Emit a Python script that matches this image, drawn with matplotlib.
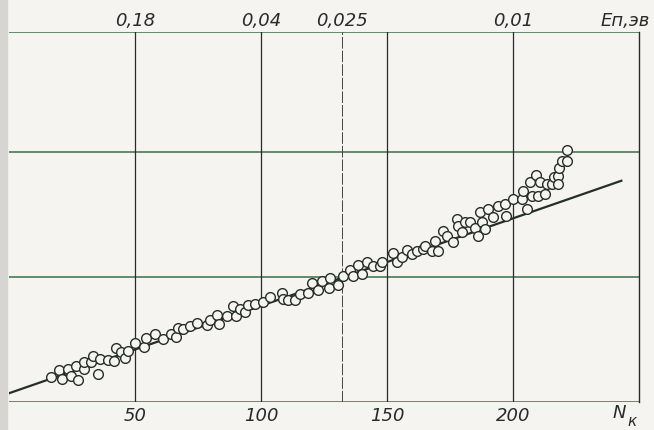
import matplotlib.pyplot as plt
from matplotlib.patches import Rectangle

# measured points (N_k, relative ordinate)
n_k = [16.5, 19.7, 20.9, 23.3, 24.5, 26.4, 27.2, 29.6, 29.6, 32.4, 33.2, 35.5,
       36.3, 39.1, 41.5, 42.3, 44.3, 46.2, 47.4, 50.0, 53.4, 54.2, 58.1, 61.3,
       64.1, 66.1, 66.9, 69.2, 72.0, 74.8, 78.7, 79.9, 82.7, 83.5, 86.7, 88.7,
       89.9, 91.8, 93.8, 95.0, 97.8, 100.6, 103.7, 108.5, 108.9, 110.9, 113.6,
       115.6, 118.8, 120.4, 122.7, 124.3, 127.1, 127.5, 130.7, 132.7, 135.4,
       136.6, 138.6, 140.2, 142.2, 144.5, 147.3, 148.1, 152.5, 154.1, 156.0,
       158.0, 160.0, 162.0, 164.4, 165.2, 168.0, 169.1, 170.3, 172.3, 173.9,
       176.3, 177.8, 178.2, 179.8, 181.0, 183.0, 185.0, 186.2, 187.0, 187.8,
       188.9, 190.1, 192.1, 194.1, 196.9, 197.3, 200.0, 203.6, 204.0, 205.6,
       206.8, 207.6, 209.2, 210.0, 210.7, 212.7, 213.5, 215.5, 216.3, 217.9,
       217.9, 218.3, 219.5, 221.4, 221.4]
val = [0.200, 0.256, 0.184, 0.264, 0.208, 0.288, 0.176, 0.264, 0.320, 0.320,
       0.368, 0.224, 0.344, 0.336, 0.328, 0.432, 0.400, 0.352, 0.408, 0.472,
       0.440, 0.512, 0.544, 0.504, 0.544, 0.520, 0.592, 0.584, 0.608, 0.632,
       0.616, 0.656, 0.696, 0.624, 0.688, 0.768, 0.688, 0.744, 0.720, 0.776,
       0.784, 0.800, 0.840, 0.872, 0.824, 0.816, 0.816, 0.864, 0.872, 0.952,
       0.896, 0.968, 0.912, 0.992, 0.936, 1.008, 1.056, 1.008, 1.096, 1.024,
       1.120, 1.088, 1.088, 1.120, 1.192, 1.120, 1.160, 1.216, 1.184, 1.208,
       1.224, 1.248, 1.208, 1.288, 1.208, 1.368, 1.328, 1.280, 1.464, 1.408,
       1.360, 1.440, 1.440, 1.392, 1.328, 1.520, 1.440, 1.384, 1.544, 1.480,
       1.568, 1.584, 1.488, 1.624, 1.624, 1.688, 1.544, 1.760, 1.648, 1.816,
       1.648, 1.760, 1.664, 1.744, 1.744, 1.800, 1.808, 1.744, 1.872, 1.928,
       1.928, 2.016]

# straight line fit
line_x = [0, 243]
line_y = [0.07, 1.77]

bottom_ticks = [50, 100, 150, 200]
bottom_labels = ["50", "100", "150", "200"]
top_ticks = [50, 100, 132, 200]
top_labels = ["0,18", "0,04", "0,025", "0,01"]
h_grid = [0, 1, 2]

paper = "#f5f4f0"
hcol = "#4a7a55"
vcol = "#2a2a2a"
ink = "#262e28"
font = ["Liberation Sans Narrow", "DejaVu Sans"]

fig = plt.figure(figsize=(6.54, 4.31), dpi=100, facecolor=paper)
fig.patches.append(Rectangle((0, 0), 7 / 654, 1, transform=fig.transFigure,
                             color="#d6d5d1", zorder=0))

ax = fig.add_axes([9 / 654, 1 - 403 / 431, 630 / 654, 370 / 431])
ax.set_facecolor(paper)
ax.set_xlim(0, 250)
ax.set_ylim(0, 370 / 125)

for s in ["left", "bottom", "top"]:
    ax.spines[s].set_visible(False)
ax.spines["right"].set_color(vcol)
ax.spines["right"].set_linewidth(1.0)

for y in h_grid + [370 / 125]:
    ax.axhline(y, color=hcol, lw=1.2, zorder=1)
for x in [50, 100, 150, 200]:
    ax.axvline(x, color=vcol, lw=0.9, zorder=1)
ax.axvline(132, color="#444444", lw=0.7, ls=(0, (12, 2)), zorder=1)

ax.plot(line_x, line_y, color=ink, lw=1.6, zorder=2)
ax.plot(n_k, val, "o", ms=7.0, mfc=paper, mec=ink, mew=1.0, zorder=3)

ax.set_yticks([])
ax.set_xticks(bottom_ticks)
ax.set_xticklabels(bottom_labels)
ax.tick_params(axis="x", length=0, pad=3, labelsize=13, colors="#2a2a2a")
for lab in ax.get_xticklabels():
    lab.set_fontstyle("italic")
    lab.set_family(font)

top = ax.twiny()
top.set_xlim(ax.get_xlim())
for s in top.spines.values():
    s.set_visible(False)
top.set_xticks(top_ticks)
top.set_xticklabels(top_labels)
top.tick_params(axis="x", length=0, pad=2, labelsize=13, colors="#2a2a2a")
for lab in top.get_xticklabels():
    lab.set_fontstyle("italic")
    lab.set_family(font)

ax.text(244.5, 370 / 125 + 0.1, "Eп,эв", ha="center", va="center",
        fontsize=13, fontstyle="italic", family=font, color="#2a2a2a",
        clip_on=False)
ax.text(242.0, -0.08, "N", ha="center", va="center", fontsize=13,
        fontstyle="italic", family=font, color="#2a2a2a", clip_on=False)
ax.text(247.3, -0.15, "к", ha="center", va="center", fontsize=11,
        fontstyle="italic", family=font, color="#2a2a2a", clip_on=False)

fig.savefig("out.png", dpi=100, facecolor=paper)
